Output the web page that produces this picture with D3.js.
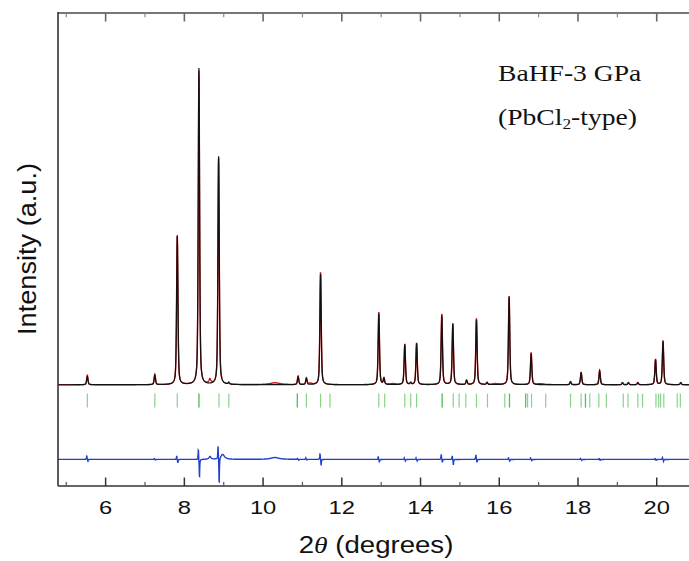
<!DOCTYPE html>
<html>
<head>
<meta charset="utf-8">
<script src="https://cdn.jsdelivr.net/npm/d3@7"></script>
<style>
  html, body { margin: 0; padding: 0; background: #fff; }
  svg { display: block; }
</style>
</head>
<body>
<svg id="chart" width="689" height="561"></svg>
<script>
// reflection positions (2theta, deg) and heights
const peakPos = [5.535, 7.25, 7.82, 8.37, 8.87, 9.13, 10.89, 11.10, 11.46, 12.94, 13.07, 13.60, 13.75, 13.90, 14.54, 14.82, 15.17, 15.42, 15.69, 16.25, 16.81, 17.81, 18.08, 18.55, 19.13, 19.28, 19.52, 19.97, 20.16, 20.61];
const calcHeight = [26, 30, 474, 1000, 721, 5, 25, 19, 350, 224, 19, 126, 5, 130, 218, 193, 13, 205, 6, 278, 98, 9, 38, 44, 6, 6, 6, 79, 136, 6];
const obsHeight = [30, 33, 470, 992, 716, 6, 27, 21, 356, 229, 20, 128, 6, 131, 223, 191, 14, 209, 7, 280, 102, 10, 39, 45, 7, 7, 7, 81, 139, 7];

// bumps seen only in the observed pattern: [pos, height, width]
const obsExtra = [[8.65, 14, 0.06], [10.3, 6, 0.3], [11.2, 4, 0.1], [15.9, 3, 0.2], [17.05, 3, 0.2], [13.3, 3, 0.15]];

// difference curve features: [pos, up, down]
const diffSpikes = [
  [5.535, 13, 6], [7.25, 3, 2], [7.82, 12, 12], [8.37, 34, 60], [8.87, 45, 85],
  [10.89, 3, 3], [11.10, 5, 2], [11.46, 20, 20], [12.94, 10, 10], [13.60, 5, 5],
  [13.90, 5, 5], [14.54, 17, 10], [14.82, 12, 18], [15.42, 15, 10], [16.25, 6, 6],
  [16.81, 6, 5], [18.08, 3, 3], [18.55, 3, 3], [19.97, 3, 3], [20.16, 6, 6]
];
// broad features of the difference curve: [pos, amp, width]
const diffBroad = [[8.65, 9, 0.06], [8.97, 16, 0.12], [10.3, 6, 0.25]];

// Bragg marker positions (repeated ones are overlapping reflections)
const braggPos = [5.535, 7.25, 7.82, 8.37, 8.37, 8.88, 9.13, 10.87, 10.87, 11.10, 11.46, 11.70,
  12.94, 13.09, 13.60, 13.75, 13.90, 14.55, 14.55, 14.83, 14.98, 15.15, 15.42, 15.70, 16.14,
  16.26, 16.26, 16.67, 16.67, 16.72, 16.82, 17.18, 17.81, 18.08, 18.19, 18.19, 18.30, 18.53,
  18.72, 19.15, 19.27, 19.52, 19.64, 19.98, 20.05, 20.10, 20.18, 20.52, 20.60];

const xTicks = [6, 8, 10, 12, 14, 16, 18, 20];
const xMinorTicks = [5, 7, 9, 11, 13, 15, 17, 19];

const diffOffset = -236;
const braggTop = -28, braggBottom = -72;

const svg = d3.select("#chart");
const mLeft = 58, mRight = 689, mTop = 13, mBottom = 486;

const x = d3.scaleLinear().domain([4.79, 20.82]).range([mLeft, mRight]);
const y = d3.scaleLinear().domain([-320, 1175]).range([mBottom, mTop]);

const pv = (t, c, h, w, eta) => {
  const d = (t - c) / w;
  return h * (eta / (1 + 4 * d * d) + (1 - eta) * Math.exp(-4 * Math.LN2 * d * d));
};
const lor = (t, c, h, w) => {
  const d = (t - c) / w;
  return h / (1 + 4 * d * d);
};

const grid = d3.range(4.79, 20.82, 0.004);
const calc = grid.map(t => {
  let s = 0;
  peakPos.forEach((p, i) => { s += pv(t, p, calcHeight[i], 0.04, 0.5); });
  return [t, s];
});
const obs = grid.map(t => {
  let s = 0;
  peakPos.forEach((p, i) => { s += pv(t, p, obsHeight[i], 0.04, 0.5); });
  obsExtra.forEach(([p, h, w]) => { s += lor(t, p, h, w); });
  return [t, s];
});
const diff = grid.map(t => {
  let s = diffOffset;
  diffSpikes.forEach(([p, up, down]) => {
    s += lor(t, p - 0.014, up, 0.014) - lor(t, p + 0.014, down, 0.014);
  });
  diffBroad.forEach(([p, h, w]) => { s += lor(t, p, h, w); });
  return [t, s];
});

svg.append("defs").append("clipPath").attr("id", "clip")
  .append("rect").attr("x", mLeft).attr("y", mTop).attr("width", mRight - mLeft).attr("height", mBottom - mTop);

const line = d3.line().x(d => x(d[0])).y(d => y(d[1]));
const plot = svg.append("g").attr("clip-path", "url(#clip)");

plot.append("path").datum(obs).attr("d", line)
  .attr("fill", "none").attr("stroke", "#c81010").attr("stroke-width", 1.4);
plot.append("path").datum(calc).attr("d", line)
  .attr("fill", "none").attr("stroke", "#111").attr("stroke-width", 1.2);

plot.selectAll(".bragg").data(braggPos).enter().append("line")
  .attr("class", "bragg")
  .attr("x1", d => x(d)).attr("x2", d => x(d))
  .attr("y1", y(braggTop)).attr("y2", y(braggBottom))
  .attr("stroke", "rgba(40,175,40,0.55)").attr("stroke-width", 1.2);

plot.append("path").datum(diff).attr("d", line)
  .attr("fill", "none").attr("stroke", "#1e3ed0").attr("stroke-width", 1.4);

// axes
const bottomAxis = svg.append("g").attr("transform", `translate(0,${mBottom})`);
bottomAxis.append("line").attr("x1", mLeft).attr("x2", mRight).attr("stroke", "#333").attr("stroke-width", 1.6);
bottomAxis.selectAll(".maj").data(xTicks).enter().append("line")
  .attr("x1", d => x(d)).attr("x2", d => x(d)).attr("y1", 0).attr("y2", -8.5)
  .attr("stroke", "#333").attr("stroke-width", 1.5);
bottomAxis.selectAll(".min").data(xMinorTicks).enter().append("line")
  .attr("x1", d => x(d)).attr("x2", d => x(d)).attr("y1", 0).attr("y2", -4)
  .attr("stroke", "#555").attr("stroke-width", 1.2);
bottomAxis.selectAll(".lbl").data(xTicks).enter().append("text")
  .attr("transform", d => `translate(${x(d)},28) scale(1.25,1)`)
  .attr("text-anchor", "middle")
  .attr("font-family", "Liberation Sans, Arial, sans-serif")
  .attr("font-size", 19).attr("fill", "#111")
  .text(d => d);

const topAxis = svg.append("g").attr("transform", `translate(0,${mTop})`);
topAxis.append("line").attr("x1", mLeft).attr("x2", mRight).attr("stroke", "#777").attr("stroke-width", 2);
topAxis.selectAll(".maj").data(xTicks).enter().append("line")
  .attr("x1", d => x(d)).attr("x2", d => x(d)).attr("y1", 0).attr("y2", 8.5)
  .attr("stroke", "#666").attr("stroke-width", 1.6);
topAxis.selectAll(".min").data(xMinorTicks).enter().append("line")
  .attr("x1", d => x(d)).attr("x2", d => x(d)).attr("y1", 0).attr("y2", 4.3)
  .attr("stroke", "#888").attr("stroke-width", 1.2);

svg.append("line").attr("x1", mLeft).attr("x2", mLeft).attr("y1", mTop - 1).attr("y2", mBottom)
  .attr("stroke", "#333").attr("stroke-width", 1.6);

// labels
const xl = svg.append("text")
  .attr("transform", "translate(376,553) scale(1.15,1)")
  .attr("text-anchor", "middle")
  .attr("font-family", "Liberation Sans, Arial, sans-serif")
  .attr("font-size", 24).attr("fill", "#111");
xl.append("tspan").text("2");
xl.append("tspan").attr("font-family", "Liberation Serif, serif").attr("font-style", "italic").text("\u03b8");
xl.append("tspan").text(" (degrees)");

svg.append("text")
  .attr("transform", "translate(36,249) rotate(-90)")
  .attr("text-anchor", "middle")
  .attr("font-family", "Liberation Sans, Arial, sans-serif")
  .attr("font-size", 26).attr("fill", "#111")
  .attr("textLength", 172).attr("lengthAdjust", "spacingAndGlyphs")
  .text("Intensity (a.u.)");

svg.append("text")
  .attr("transform", "translate(498,81) scale(1.15,1)")
  .attr("font-family", "Liberation Serif, Times New Roman, serif")
  .attr("font-size", 24).attr("fill", "#111")
  .text("BaHF-3 GPa");

const sub = svg.append("text")
  .attr("transform", "translate(498,125) scale(1.15,1)")
  .attr("font-family", "Liberation Serif, Times New Roman, serif")
  .attr("font-size", 24).attr("fill", "#111");
sub.append("tspan").text("(PbCl");
sub.append("tspan").attr("font-size", 15).attr("dy", 4).text("2");
sub.append("tspan").attr("dy", -4).text("-type)");
</script>
</body>
</html>
